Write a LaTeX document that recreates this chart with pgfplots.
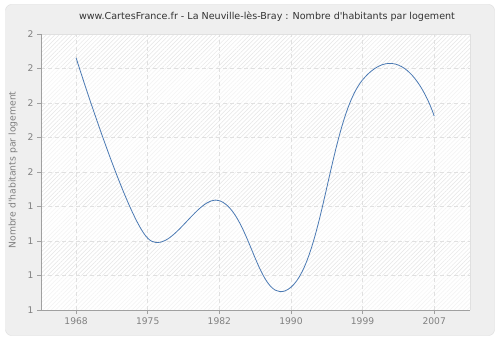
\documentclass[border=0pt]{standalone}
\usepackage{fontspec}
\setmainfont{DejaVu Sans}
\usepackage{pgfplots}
\usepackage{pgfplotstable}
\pgfplotsset{compat=1.18}
\usetikzlibrary{patterns.meta}
\definecolor{panelbg}{HTML}{EFEFEF}
\definecolor{panelborder}{HTML}{DDDDDD}
\definecolor{hatch}{HTML}{E6E6E6}
\definecolor{gridc}{HTML}{E0E0E0}
\definecolor{axisgrey}{HTML}{A0A0A0}
\definecolor{labelgrey}{HTML}{808080}
\definecolor{titlec}{HTML}{333333}
\definecolor{linec}{HTML}{4A79B3}
% x = index of the census year (1968,1975,1982,1990,1999,2007)
\pgfplotstableread{
x y
0 1.831
1 1.308
2 1.417
3 1.166
4 1.767
5 1.662
}\datatable
\begin{document}
\begin{tikzpicture}
\begin{scope}[x=1bp,y=1bp]
\useasboundingbox (0,0) rectangle (500,340);
\fill[white] (0,0) rectangle (500,340);
\draw[panelborder, fill=panelbg, rounded corners=6] (5.5,4.5) rectangle (494.5,335.5);
\fill[white] (41,30) rectangle (470,306);
\fill[pattern={Lines[angle=45,distance=3bp,line width=0.5bp]}, pattern color=hatch] (41,30) rectangle (470,306);
\foreach \i in {0,2,4,6} {\fill[white, opacity=0.5] (41,{30+34.5*\i}) rectangle (470,{30+34.5*(\i+1)});}
\draw[gridc, line width=0.6bp] (41,306) -- (470,306) -- (470,30);
\node[titlec, font=\fontsize{9.6}{11}\selectfont] at (267,323) {www.CartesFrance.fr - La Neuville-lès-Bray : Nombre d\textquotesingle habitants par logement};
\node[labelgrey, rotate=90, font=\fontsize{9.3}{11}\selectfont] at (13,170) {Nombre d\textquotesingle habitants par logement};
\end{scope}
\begin{axis}[
  at={(41bp,30bp)}, anchor=south west,
  scale only axis, width=429bp, height=276bp,
  xmin=-0.49, xmax=5.5, ymin=1.1, ymax=1.9,
  xtick={0,1,2,3,4,5},
  xticklabels={1968,1975,1982,1990,1999,2007},
  ytick={1.1,1.2,1.3,1.4,1.5,1.6,1.7,1.8,1.9},
  yticklabels={1,1,1,1,2,2,2,2,2},
  axis x line*=bottom, axis y line*=left,
  axis line style={axisgrey, line width=0.8bp, -},
  grid=major,
  major grid style={gridc, line width=0.8bp, dash pattern=on 4bp off 3bp},
  tick align=outside,
  major tick length=4bp,
  tick style={axisgrey, line width=0.8bp},
  tick label style={labelgrey, font=\fontsize{9.2}{11}\selectfont},
]
\begin{scope}
\clip (axis cs:-1,0.5) rectangle (axis cs:2,2.5);
\addplot[smooth, tension=0.55, color=linec, line width=0.8bp, mark=none] table {\datatable};
\end{scope}
\begin{scope}
\clip (axis cs:2,0.5) rectangle (axis cs:3,2.5);
\addplot[smooth, tension=0.8, color=linec, line width=0.8bp, mark=none] table {\datatable};
\end{scope}
\begin{scope}
\clip (axis cs:3,0.5) rectangle (axis cs:4,2.5);
\addplot[smooth, tension=0.8, color=linec, line width=0.8bp, mark=none] table {\datatable};
\end{scope}
\begin{scope}
\clip (axis cs:4,0.5) rectangle (axis cs:6,2.5);
\addplot[smooth, tension=1.1, color=linec, line width=0.8bp, mark=none] table {\datatable};
\end{scope}
\end{axis}
\end{tikzpicture}
\end{document}
